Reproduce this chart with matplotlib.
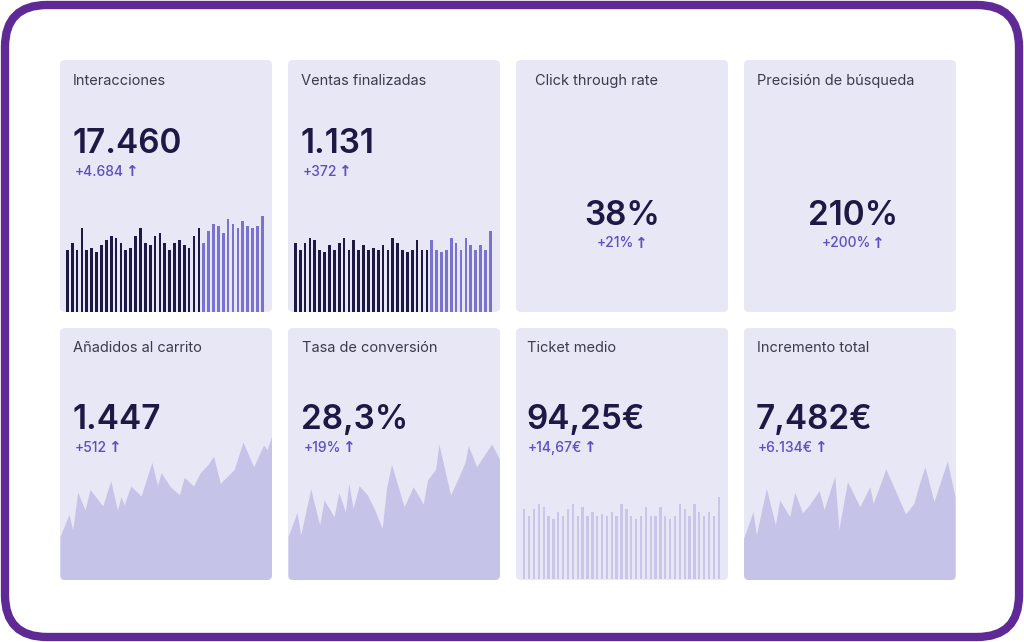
import matplotlib.pyplot as plt
import numpy as np
from matplotlib.patches import FancyBboxPatch

# ---- data ----
titles = ['Interacciones', 'Ventas finalizadas', 'Click through rate', 'Precisión de búsqueda',
          'Añadidos al carrito', 'Tasa de conversión', 'Ticket medio', 'Incremento total']
values = ['17.460', '1.131', '38%', '210%', '1.447', '28,3%', '94,25€', '7,482€']
deltas = ['+4.684', '+372', '+21%', '+200%', '+512', '+19%', '+14,67€', '+6.134€']

interacciones = [187, 207, 187, 251, 187, 193, 179, 200, 215, 229, 222, 207, 187, 193, 229, 251,
                 207, 200, 229, 236, 207, 187, 207, 215, 200, 193, 229, 251, 207, 243, 265, 258,
                 236, 279, 265, 251, 272, 258, 251, 258, 287]
ventas = [207, 187, 207, 222, 215, 187, 179, 200, 187, 207, 222, 187, 215, 187, 200, 187, 193,
          187, 200, 187, 222, 207, 187, 179, 187, 215, 187, 187, 215, 187, 179, 187, 222, 207,
          187, 222, 200, 187, 200, 187, 243]
ticket = [210, 190, 210, 225, 217, 190, 181, 202, 190, 210, 225, 190, 217, 190, 202, 190, 196,
          190, 202, 190, 225, 210, 190, 181, 190, 217, 190, 190, 217, 190, 181, 190, 225, 210,
          190, 225, 202, 190, 202, 190, 246]
n_dark = 28

carrito_t = [0, 27, 38, 53, 75, 90, 128, 152, 172, 183, 192, 212, 243, 275, 292, 303, 330, 358,
             372, 400, 420, 442, 460, 480, 522, 548, 580, 610, 620, 635]
carrito_v = [120, 187, 140, 254, 200, 262, 212, 288, 200, 240, 215, 272, 242, 343, 274, 312, 270,
             246, 298, 272, 312, 335, 362, 280, 322, 404, 330, 395, 380, 425]
conversion_t = [0, 27, 38, 68, 95, 108, 138, 152, 172, 182, 195, 213, 238, 260, 282, 295, 310,
                348, 375, 405, 418, 442, 452, 487, 512, 530, 540, 565, 610, 635]
conversion_v = [120, 193, 125, 263, 155, 230, 180, 252, 195, 280, 205, 273, 245, 200, 145, 265,
                337, 210, 270, 218, 290, 322, 398, 245, 300, 342, 393, 330, 398, 350]
incremento_t = [0, 30, 40, 70, 97, 110, 140, 155, 178, 195, 228, 243, 275, 287, 313, 350, 380,
                390, 428, 465, 487, 512, 528, 545, 572, 612, 635]
incremento_v = [115, 200, 130, 270, 160, 235, 185, 258, 197, 215, 263, 207, 307, 147, 290, 215,
                275, 225, 328, 243, 193, 225, 283, 335, 230, 352, 245]

# ---- colours ----
BORDER = '#5f2a96'
CARD = '#e8e7f5'
NAVY = '#1c1a45'
LIGHT_BAR = '#7a72d0'
AREA = '#c6c3e8'
TICK_BAR = '#c9c6ea'
TITLE_C = '#3b3b4c'
DELTA_C = '#5a50c0'

plt.rcParams['font.family'] = ['Inter', 'DejaVu Sans']

W, H = 1024, 642
fig = plt.figure(figsize=(W / 100, H / 100), dpi=100)
base = fig.add_axes([0, 0, 1, 1])
base.set_xlim(0, W)
base.set_ylim(H, 0)
base.axis('off')

# outer frame
base.add_patch(FancyBboxPatch((5, 5), W - 10, H - 10, boxstyle='round,pad=0,rounding_size=42',
                              fc='white', ec=BORDER, lw=6))

col_x = [60, 288, 516, 744]
row_y = [60, 328]
cw, ch = 212, 252
cards = []
for r in range(2):
    for c in range(4):
        p = FancyBboxPatch((col_x[c], row_y[r]), cw, ch, boxstyle='round,pad=0,rounding_size=5',
                           fc=CARD, ec='none')
        base.add_patch(p)
        cards.append(p)


def px_axes(x0, y0, x1, y1):
    ax = fig.add_axes([x0 / W, 1 - y1 / H, (x1 - x0) / W, (y1 - y0) / H])
    ax.axis('off')
    ax.patch.set_alpha(0)
    return ax


def delta_text(x, y, s, ha):
    t = base.text(x, y, s, fontsize=10, fontweight='medium', color=DELTA_C, ha=ha, va='center')
    # heavy arrow right after the number
    base.annotate('↑', xy=(1, 0.5), xycoords=t, xytext=(0.5, 0), textcoords='offset points',
                  fontsize=11, fontweight='bold', color=DELTA_C, ha='left', va='center',
                  family='DejaVu Sans')
    return t


# texts
title_pos = [(73, 81), (301, 81), (535, 81), (757, 81), (73, 348), (302, 348), (527, 348), (757, 348)]
for i, t in enumerate(titles):
    base.text(title_pos[i][0], title_pos[i][1], t, fontsize=10.5, color=TITLE_C,
              ha='left', va='center')

left_num = {0: (72, 144, 75, 172), 1: (300, 144, 303, 172), 4: (72, 420, 75, 448),
            5: (301, 420, 304, 448), 6: (526, 420, 528, 448), 7: (756, 420, 758, 448)}
for i, (vx, vy, dx, dy) in left_num.items():
    base.text(vx, vy, values[i], fontsize=24, fontweight='semibold', color=NAVY, ha='left', va='center')
    delta_text(dx, dy, deltas[i], 'left')
for i, cx in [(2, 622), (3, 853)]:
    base.text(cx, 216, values[i], fontsize=24, fontweight='semibold', color=NAVY, ha='center', va='center')
    delta_text(cx - 7, 243, deltas[i], 'center')

# bar charts
idx = np.arange(len(interacciones))
bar_colors = [NAVY] * n_dark + [LIGHT_BAR] * (len(idx) - n_dark)
for card_x, data in [(60, interacciones), (288, ventas)]:
    ax = px_axes(card_x, 200, card_x + cw, 312)
    ax.bar(idx, data, width=0.55, color=bar_colors, lw=0)
    ax.set_xlim(-1.5, 42)
    ax.set_ylim(0, 336)

ax = px_axes(516, 480, 728, 579)
ax.bar(idx, ticket, width=0.48, color=TICK_BAR, lw=0)
ax.set_xlim(-1.7, 41.9)
ax.set_ylim(0, 297)

# area charts
for k, (x0, y0, y1, t, v, ymax) in enumerate([
        (60, 420, 576.7, carrito_t, carrito_v, 470),
        (288, 420, 576.7, conversion_t, conversion_v, 470),
        (743, 440, 578.3, incremento_t, incremento_v, 415)]):
    ax = px_axes(x0, y0, x0 + 212, y1 + 3)
    fill = ax.fill_between(t, v, -10, color=AREA, lw=0)
    fill.set_clip_path(cards[[4, 5, 7][k]])
    ax.set_xlim(0, 635)
    ax.set_ylim(-9, ymax)

fig.savefig('out.png', dpi=100)
